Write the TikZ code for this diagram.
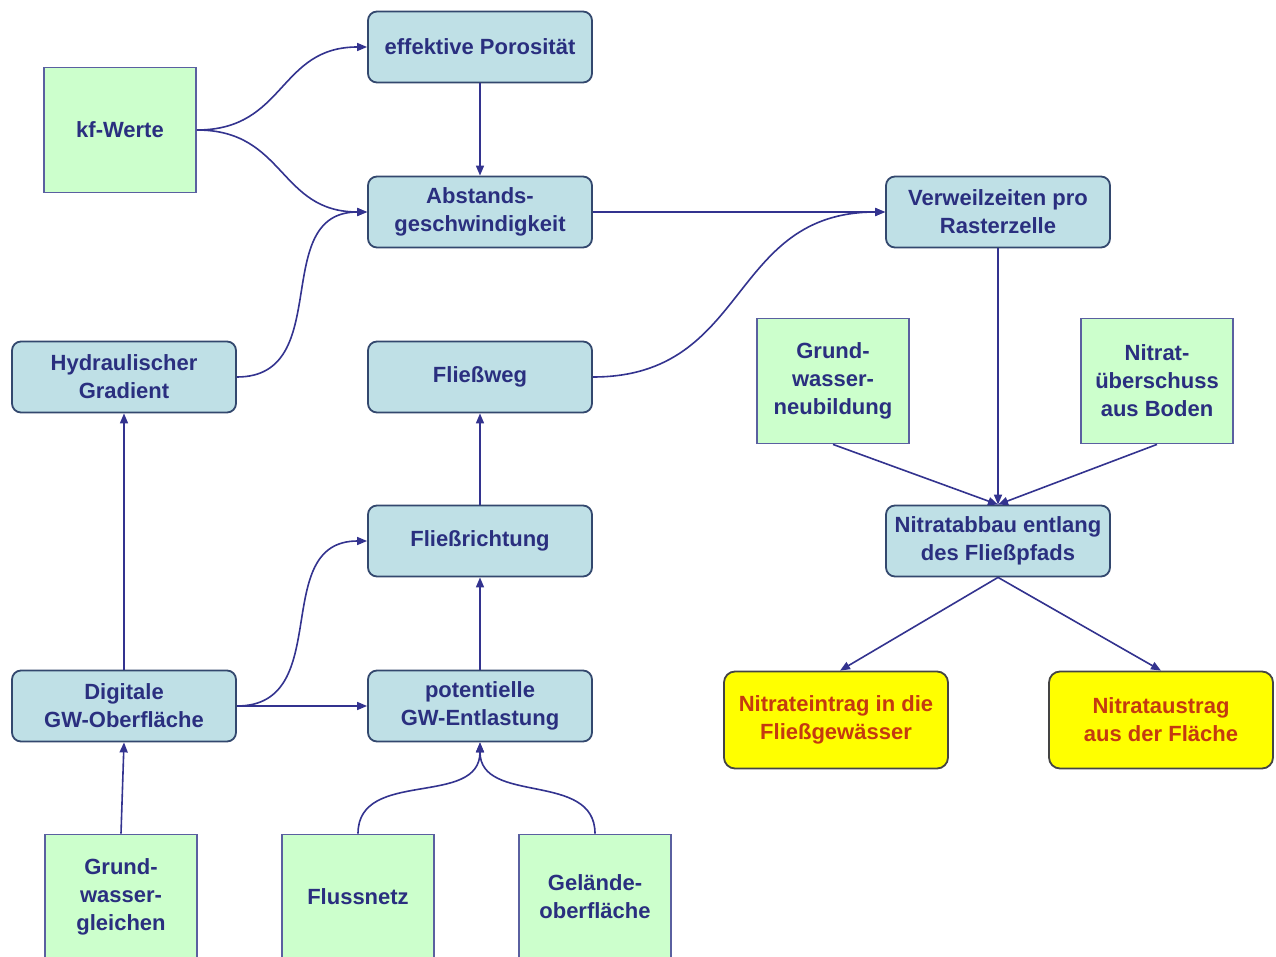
\documentclass[tikz,border=0pt]{standalone}
\usepackage{fontspec}
\setmainfont{Liberation Sans}
\usetikzlibrary{arrows.meta}
\definecolor{bfill}{HTML}{BFE0E6}
\definecolor{bdraw}{HTML}{33486E}
\definecolor{gfill}{HTML}{CCFFCC}
\definecolor{gdraw}{HTML}{5A60A0}
\definecolor{yfill}{HTML}{FFFF00}
\definecolor{ydraw}{HTML}{444444}
\definecolor{txt}{HTML}{2A2F7F}
\definecolor{rtxt}{HTML}{C43A10}
\definecolor{arr}{HTML}{33338F}
\begin{document}
\begin{tikzpicture}[x=1pt,y=-1pt,
  base/.style={font=\bfseries\fontsize{22}{28}\selectfont, align=center, inner sep=0pt, line width=1.8pt},
  bluebox/.style={base, draw=bdraw, fill=bfill, text=txt, rounded corners=9pt, minimum width=224pt, minimum height=71pt},
  greenbox/.style={base, draw=gdraw, fill=gfill, text=txt, minimum width=152pt, minimum height=125pt},
  yellowbox/.style={base, draw=ydraw, fill=yfill, text=rtxt, rounded corners=11pt, minimum width=224pt, minimum height=97pt},
  conn/.style={draw=arr, line width=1.6pt, -{Triangle[length=10pt,width=8pt]}},
  scurve/.style={out=0,in=180,looseness=1.2}
]
\useasboundingbox (0,0) rectangle (1276,957);
\fill[white] (0,0) rectangle (1276,957);
\begin{scope}
\clip (0,0) rectangle (1276,957);
% nodes
\node[greenbox] (kf) at (120,130) {kf-Werte};
\node[bluebox] (por) at (480,47) {effektive Porosität};
\node[bluebox] (abs) at (480,212) {Abstands-\\geschwindigkeit};
\node[bluebox] (ver) at (998,212) {Verweilzeiten pro\\Rasterzelle};
\node[bluebox] (hyd) at (124,377) {Hydraulischer\\Gradient};
\node[bluebox] (weg) at (480,377) {Fließweg};
\node[greenbox] (gwn) at (833,381) {Grund-\\wasser-\\neubildung};
\node[greenbox] (nue) at (1157,381) {Nitrat-\\überschuss\\aus Boden};
\node[bluebox] (nab) at (998,541) {Nitratabbau entlang\\des Fließpfads};
\node[bluebox] (ric) at (480,541) {Fließrichtung};
\node[bluebox] (dig) at (124,706) {Digitale\\GW-Oberfläche};
\node[bluebox] (pot) at (480,706) {potentielle\\GW-Entlastung};
\node[yellowbox] (ein) at (836,720) {Nitrateintrag in die\\Fließgewässer};
\node[yellowbox] (aus) at (1161,720) {Nitrataustrag\\aus der Fläche};
\node[greenbox] (gwg) at (121,897) {Grund-\\wasser-\\gleichen};
\node[greenbox] (flu) at (358,897) {Flussnetz};
\node[greenbox] (gel) at (595,897) {Gelände-\\oberfläche};
% connectors
\draw[conn] (kf.east) to[scurve] (por.west);
\draw[conn] (kf.east) to[scurve] (abs.west);
\draw[conn] (por.south) -- (abs.north);
\draw[conn] (hyd.east) to[scurve] (abs.west);
\draw[conn] (abs.east) -- (ver.west);
\draw[conn] (weg.east) to[scurve] (ver.west);
\draw[conn] (ver.south) -- (nab.north);
\draw[conn] (gwn.south) -- (nab.north);
\draw[conn] (nue.south) -- (nab.north);
\draw[conn] (nab.south) -- ([xshift=4pt]ein.north);
\draw[conn] (nab.south) -- (aus.north);
\draw[conn] (ric.north) -- (weg.south);
\draw[conn] (pot.north) -- (ric.south);
\draw[conn] (dig.east) to[scurve] (ric.west);
\draw[conn] (dig.east) -- (pot.west);
\draw[conn] (dig.north) -- (hyd.south);
\draw[conn] (gwg.north) -- (dig.south);
\draw[conn] (flu.north) to[out=90,in=-90,looseness=1.1] (pot.south);
\draw[conn] (gel.north) to[out=90,in=-90,looseness=1.1] (pot.south);
\end{scope}
\end{tikzpicture}
\end{document}
